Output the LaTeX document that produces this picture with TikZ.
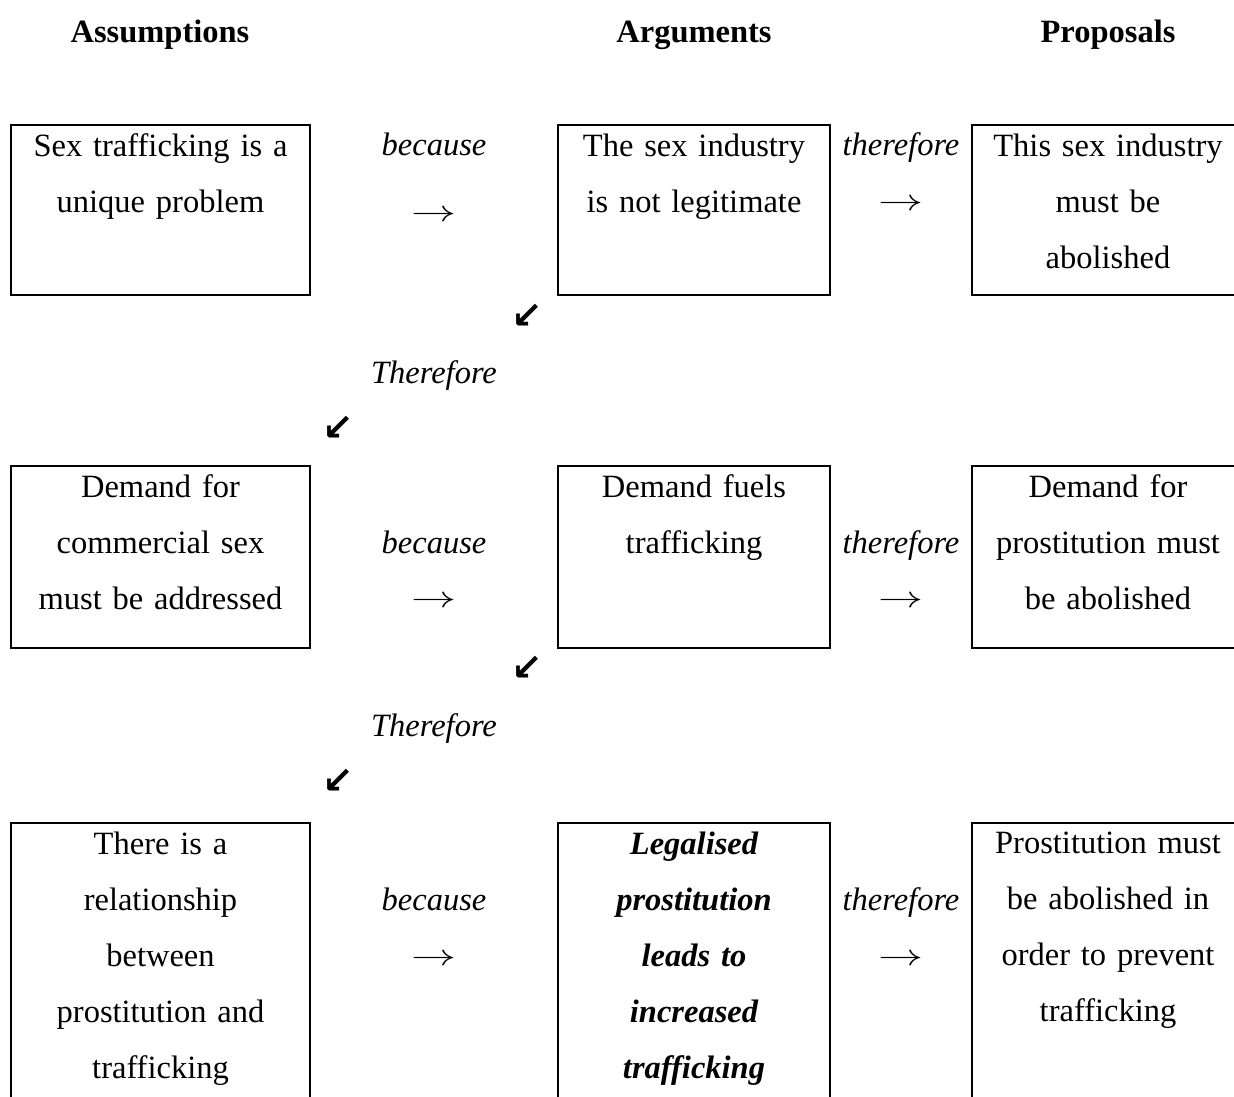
\documentclass[tikz,border=0pt]{standalone}
\usepackage{fontspec}
\usepackage{graphicx}
\setmainfont{Liberation Serif}
\newfontfamily\arrowfont{DejaVu Sans}
\usetikzlibrary{positioning}

\begin{document}
\begin{tikzpicture}[x=0.4pt,y=-0.4pt,
  box/.style={draw,line width=0.8pt,inner sep=0pt,anchor=north west},
  colA/.style={minimum width=119.6pt},
  colB/.style={minimum width=108.8pt},
  boxtext/.style={align=center,inner sep=0pt,font=\fontsize{13}{22.4}\selectfont},
  head/.style={font=\fontsize{13}{15}\selectfont\bfseries,anchor=base},
  link/.style={font=\fontsize{13}{15}\selectfont\itshape,anchor=base},
  arr/.style={font=\fontsize{13}{15}\selectfont},
  diag/.style={font=\arrowfont\bfseries\fontsize{15}{17}\selectfont}]
\useasboundingbox (0,0) rectangle (1234,1097);
\clip (0,0) rectangle (1234,1097);

% headings
\node[head] (hA) at (160,43) {Assumptions};
\node[head] (hB) at (694,43) {Arguments};
\node[head] (hC) at (1108,43) {Proposals};

% row 1
\node[box,colA,minimum height=68pt] (a1) at (10,124) {};
\node[box,colB,minimum height=68pt,right=98.4pt of a1,anchor=west] (b1) {};
\node[box,colB,minimum height=68pt,right=56pt of b1,anchor=west] (c1) {};
\node[boxtext,text width=113pt,below=3.6pt of a1.north] (ta1) {Sex trafficking is a\\unique problem};
\node[boxtext,text width=103pt,below=3.6pt of b1.north] (tb1) {The sex industry\\is not legitimate};
\node[boxtext,text width=103pt,below=3.6pt of c1.north] (tc1) {This sex industry\\must be\\abolished};
\node[link] (because1) at (434,156) {because};
\node[arr] (ab1) at (434,216) {\scalebox{1.5}[1]{$\rightarrow$}};
\node[link] (therefore1) at (901,156) {therefore};
\node[arr] (ac1) at (901,205) {\scalebox{1.5}[1]{$\rightarrow$}};

% step down 1
\node[diag] (d1) at (527,316) {↙};
\node[link] (then1) at (434,384) {Therefore};
\node[diag] (d2) at (338,428) {↙};

% row 2
\node[box,colA,minimum height=72.8pt] (a2) at (10,465) {};
\node[box,colB,minimum height=72.8pt,right=98.4pt of a2,anchor=west] (b2) {};
\node[box,colB,minimum height=72.8pt,right=56pt of b2,anchor=west] (c2) {};
\node[boxtext,text width=113pt,below=3.6pt of a2.north] (ta2) {Demand for\\commercial sex\\must be addressed};
\node[boxtext,text width=103pt,below=3.6pt of b2.north] (tb2) {Demand fuels\\trafficking};
\node[boxtext,text width=103pt,below=3.6pt of c2.north] (tc2) {Demand for\\prostitution must\\be abolished};
\node[link] (because2) at (434,554) {because};
\node[arr] (ab2) at (434,602) {\scalebox{1.5}[1]{$\rightarrow$}};
\node[link] (therefore2) at (901,554) {therefore};
\node[arr] (ac2) at (901,602) {\scalebox{1.5}[1]{$\rightarrow$}};

% step down 2
\node[diag] (d3) at (527,668) {↙};
\node[link] (then2) at (434,737) {Therefore};
\node[diag] (d4) at (338,781) {↙};

% row 3
\node[box,colA,minimum height=115.2pt] (a3) at (10,822) {};
\node[box,colB,minimum height=115.2pt,right=98.4pt of a3,anchor=west] (b3) {};
\node[box,colB,minimum height=115.2pt,right=56pt of b3,anchor=west] (c3) {};
\node[boxtext,text width=113pt,below=3.6pt of a3.north] (ta3) {There is a\\relationship\\between\\prostitution and\\trafficking};
\node[boxtext,text width=103pt,below=3.6pt of b3.north,font=\fontsize{13}{22.4}\selectfont\bfseries\itshape] (tb3) {Legalised\\prostitution\\leads to\\increased\\trafficking};
\node[boxtext,text width=103pt,below=3.6pt of c3.north] (tc3) {Prostitution must\\be abolished in\\order to prevent\\trafficking};
\node[link] (because3) at (434,911) {because};
\node[arr] (ab3) at (434,960) {\scalebox{1.5}[1]{$\rightarrow$}};
\node[link] (therefore3) at (901,911) {therefore};
\node[arr] (ac3) at (901,960) {\scalebox{1.5}[1]{$\rightarrow$}};

\end{tikzpicture}
\end{document}
